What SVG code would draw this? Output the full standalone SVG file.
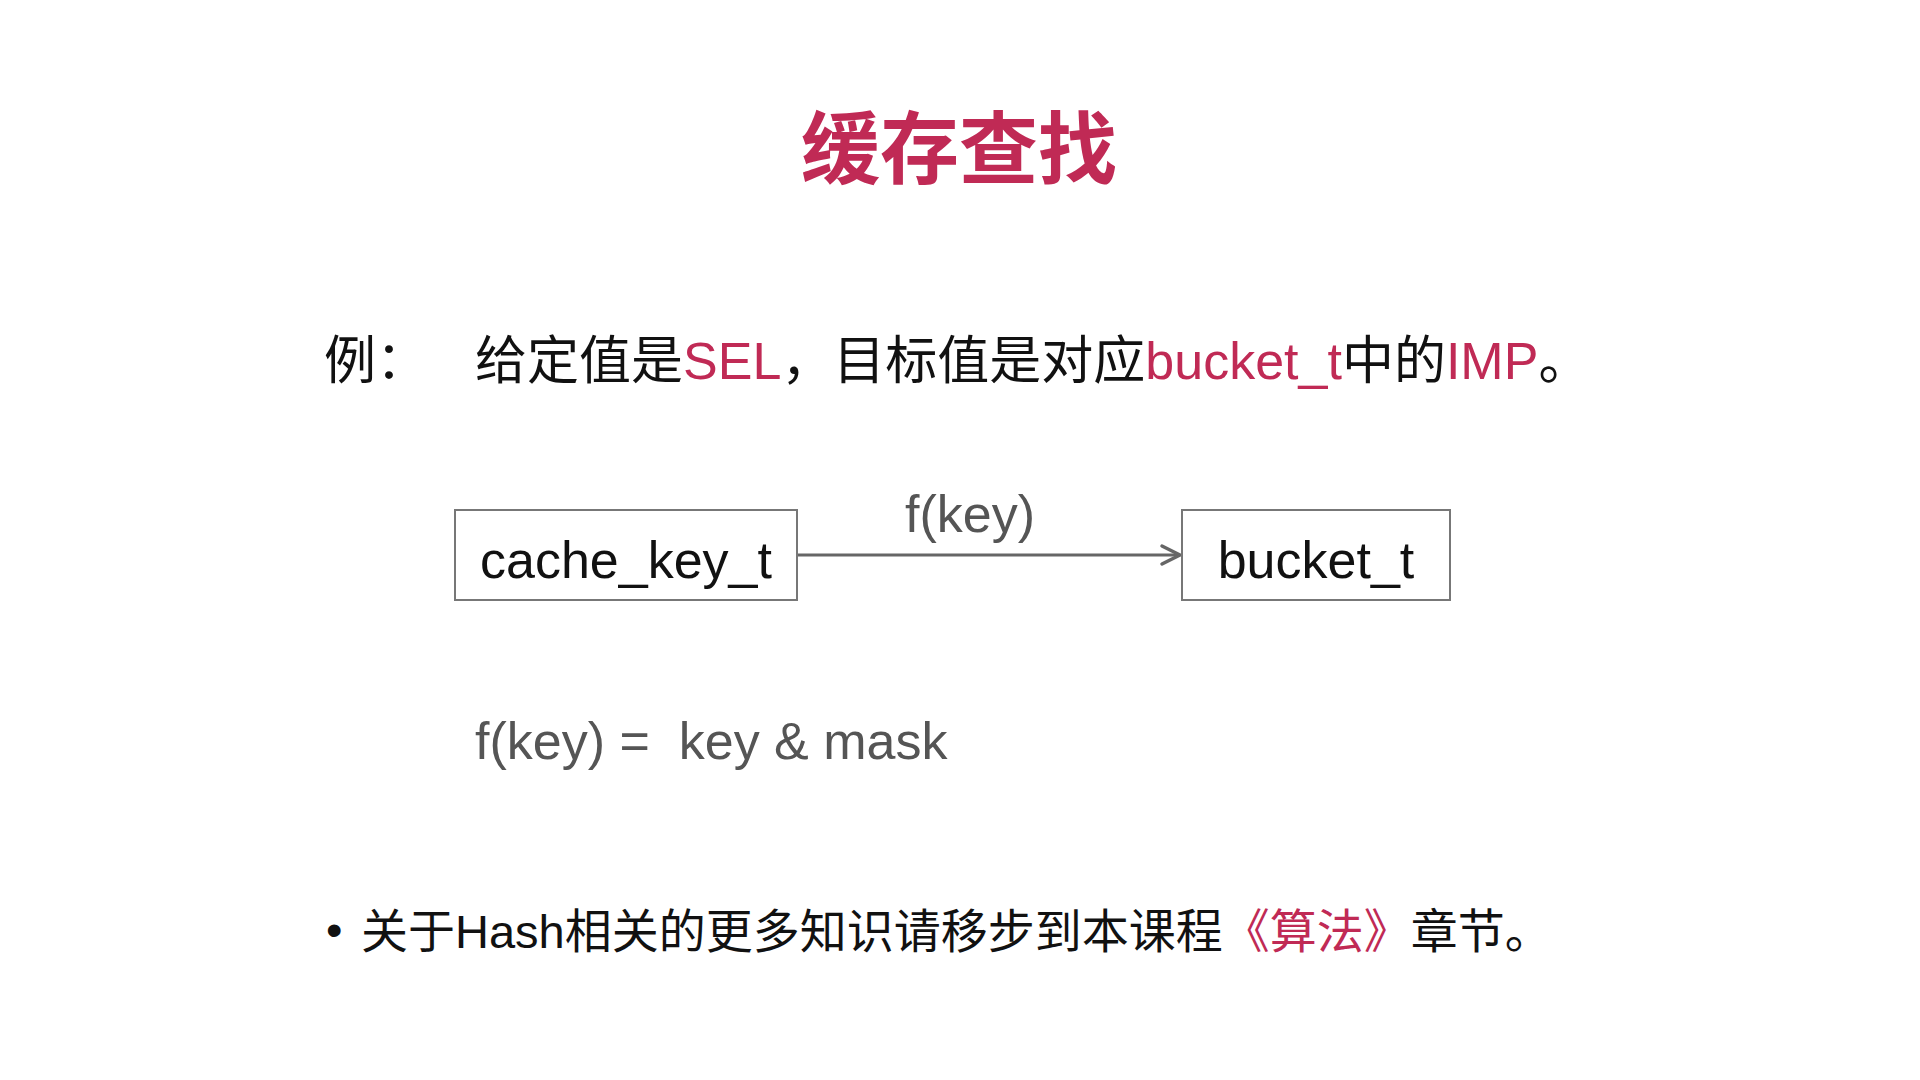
<svg xmlns="http://www.w3.org/2000/svg" width="1920" height="1080" viewBox="0 0 1920 1080">
<style>
text{font-family:"Liberation Sans","Noto Sans CJK SC",sans-serif;}
.red{fill:#C02A55;}
.blk{fill:#111111;}
.gry{fill:#555555;}
.box{fill:#ffffff;stroke:#777777;stroke-width:2;}
.conn{stroke:#666666;stroke-width:3;fill:none;}
</style>
<defs>
<marker id="arr" viewBox="0 0 24 24" refX="21" refY="12" markerWidth="24" markerHeight="24" markerUnits="userSpaceOnUse" orient="auto">
<path d="M3,3 L21,12 L3,21" fill="none" stroke="#666666" stroke-width="3.5" stroke-linecap="round" stroke-linejoin="round"/>
</marker>
</defs>
<rect width="1920" height="1080" fill="#ffffff"/>
<g id="title">
<text x="959" y="178" text-anchor="middle" font-size="79" font-weight="bold" class="red" style="font-family:'Noto Sans CJK SC',sans-serif">缓存查找</text>
</g>
<g id="example">
<text x="324" y="379" font-size="52" class="blk">例：</text>
<text x="475" y="379" font-size="52" class="blk">给定值是<tspan class="red">SEL</tspan>，目标值是对应<tspan class="red">bucket_t</tspan>中的<tspan class="red">IMP</tspan>。</text>
</g>
<g id="connectors">
<line x1="798" y1="555" x2="1180" y2="555" class="conn" marker-end="url(#arr)"/>
<text x="970" y="532" font-size="52" text-anchor="middle" class="gry">f(key)</text>
</g>
<g id="node-cache_key_t">
<rect x="455" y="510" width="342" height="90" class="box"/>
<text x="626" y="578" font-size="52" text-anchor="middle" class="blk">cache_key_t</text>
</g>
<g id="node-bucket_t">
<rect x="1182" y="510" width="268" height="90" class="box"/>
<text x="1316" y="578" font-size="52" text-anchor="middle" class="blk">bucket_t</text>
</g>
<g id="formula">
<text x="475" y="759" font-size="52" class="gry" xml:space="preserve">f(key) =  key &amp; mask</text>
</g>
<g id="note">
<text x="326" y="946" font-size="47" class="blk">•</text>
<text x="361" y="948" font-size="47" class="blk">关于Hash相关的更多知识请移步到本课程<tspan class="red">《算法》</tspan>章节。</text>
</g>
</svg>
